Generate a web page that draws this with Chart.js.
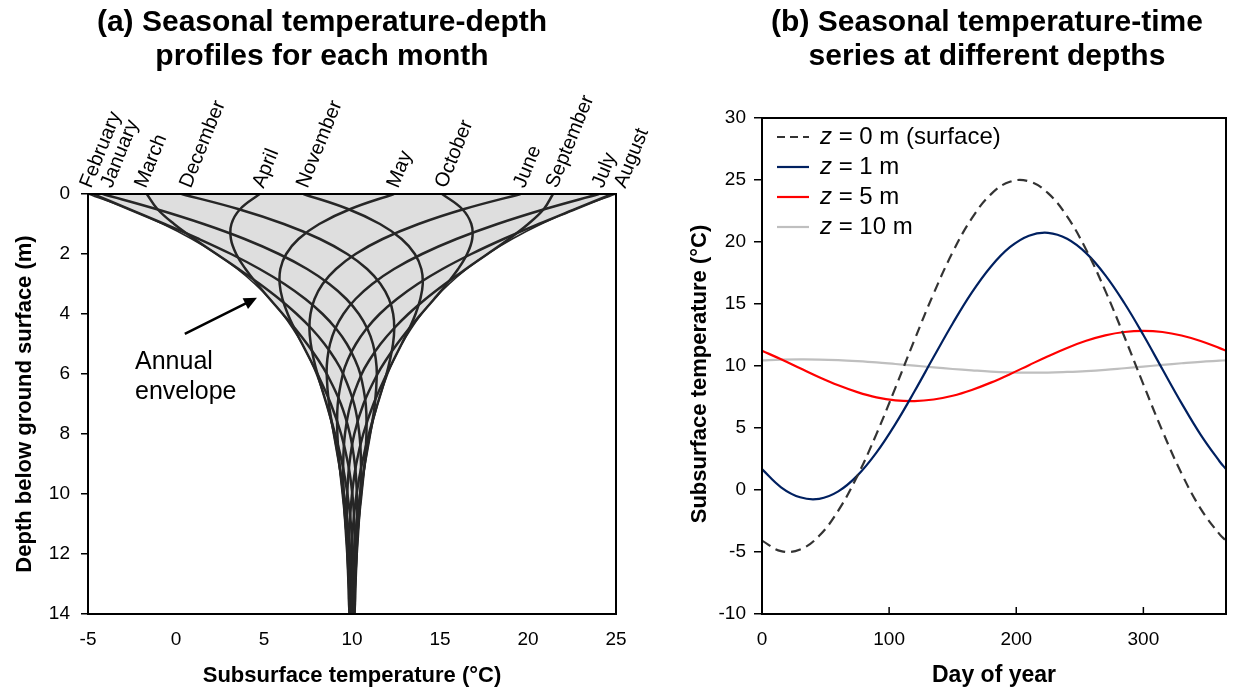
<!DOCTYPE html>
<html>
<head>
<meta charset="utf-8">
<script src="https://cdn.jsdelivr.net/npm/chart.js@4.4.1/dist/chart.umd.min.js"></script>
<style>
  html, body { margin: 0; padding: 0; background: #fff; }
  #wrap { position: relative; width: 1233px; height: 692px; overflow: hidden; }
  #chartA { position: absolute; left: 0; top: 0; }
  #chartB { position: absolute; left: 640px; top: 0; }
</style>
</head>
<body>
<div id="wrap">
  <canvas id="chartA" width="650" height="692"></canvas>
  <canvas id="chartB" width="593" height="692"></canvas>
</div>
<script>
const FONT = "'Liberation Sans', Arial, sans-serif";
Chart.defaults.font.family = FONT;
Chart.defaults.color = '#000';

// ---- (a) temperature-depth profiles, one per month (deg C at each depth) ----
const depths = [0, 0.5, 1, 1.5, 2, 2.5, 3, 3.5, 4, 4.5, 5, 5.5, 6, 7, 8, 9, 10, 11, 12, 13, 14];
const monthNames = ['January', 'February', 'March', 'April', 'May', 'June',
                    'July', 'August', 'September', 'October', 'November', 'December'];
const tJan = [-4.16, -1.13, 1.57, 3.90, 5.85, 7.45, 8.71, 9.68, 10.39, 10.88, 11.19, 11.35, 11.41, 11.30, 11.03, 10.73, 10.46, 10.25, 10.10, 10.01, 9.96];
const tFeb = [-4.71, -2.69, -0.65, 1.31, 3.13, 4.75, 6.16, 7.35, 8.33, 9.11, 9.71, 10.15, 10.47, 10.78, 10.82, 10.71, 10.54, 10.36, 10.22, 10.11, 10.03];
const tMar = [-1.66, -1.06, -0.11, 1.05, 2.30, 3.56, 4.76, 5.87, 6.86, 7.72, 8.44, 9.03, 9.50, 10.12, 10.42, 10.51, 10.47, 10.38, 10.27, 10.17, 10.09];
const tApr = [4.75, 3.65, 3.15, 3.12, 3.42, 3.95, 4.61, 5.33, 6.07, 6.79, 7.45, 8.05, 8.57, 9.37, 9.88, 10.16, 10.28, 10.30, 10.26, 10.20, 10.13];
const tMay = [12.38, 9.91, 8.14, 6.96, 6.26, 5.93, 5.89, 6.05, 6.35, 6.74, 7.17, 7.61, 8.04, 8.80, 9.38, 9.78, 10.02, 10.14, 10.18, 10.17, 10.14];
const tJun = [19.58, 16.38, 13.78, 11.74, 10.20, 9.09, 8.33, 7.87, 7.64, 7.58, 7.66, 7.82, 8.04, 8.55, 9.04, 9.45, 9.74, 9.94, 10.05, 10.09, 10.10];
const tJul = [24.03, 20.97, 18.26, 15.93, 13.98, 12.39, 11.15, 10.20, 9.51, 9.04, 8.75, 8.60, 8.56, 8.69, 8.97, 9.27, 9.55, 9.76, 9.91, 10.00, 10.04];
const tAug = [24.78, 22.70, 20.61, 18.61, 16.78, 15.14, 13.73, 12.55, 11.57, 10.81, 10.22, 9.78, 9.48, 9.19, 9.17, 9.29, 9.47, 9.64, 9.79, 9.90, 9.97];
const tSep = [21.42, 20.90, 20.01, 18.91, 17.70, 16.47, 15.28, 14.18, 13.20, 12.35, 11.62, 11.03, 10.55, 9.92, 9.60, 9.50, 9.53, 9.62, 9.73, 9.83, 9.90];
const tOct = [15.12, 16.26, 16.78, 16.83, 16.54, 16.03, 15.38, 14.67, 13.93, 13.22, 12.56, 11.97, 11.45, 10.65, 10.13, 9.85, 9.73, 9.71, 9.74, 9.80, 9.87];
const tNov = [7.24, 9.77, 11.59, 12.82, 13.57, 13.94, 14.02, 13.88, 13.61, 13.24, 12.82, 12.39, 11.97, 11.22, 10.64, 10.24, 10.00, 9.87, 9.83, 9.83, 9.86];
const tDec = [0.32, 3.53, 6.13, 8.18, 9.73, 10.86, 11.62, 12.10, 12.34, 12.40, 12.33, 12.17, 11.96, 11.45, 10.96, 10.56, 10.26, 10.07, 9.96, 9.91, 9.90];
const envMin = [-5, -2.70, -0.75, 0.90, 2.30, 3.48, 4.48, 5.33, 6.05, 6.65, 7.17, 7.60, 7.97, 8.55, 8.96, 9.25, 9.47, 9.62, 9.73, 9.80, 9.86];
const envMax = [25, 22.70, 20.75, 19.10, 17.70, 16.52, 15.52, 14.67, 13.95, 13.35, 12.83, 12.40, 12.03, 11.46, 11.04, 10.75, 10.54, 10.38, 10.28, 10.20, 10.14];
const tempTicksA = [-5, 0, 5, 10, 15, 20, 25];
const depthTicks = [0, 2, 4, 6, 8, 10, 12, 14];

// ---- (b) temperature time series at four depths ----
const days = [0, 15, 30, 45, 60, 75, 90, 105, 120, 135, 150, 165, 180, 195, 210, 225, 240, 255, 270, 285, 300, 315, 330, 345, 360, 365];
const tSurface = [-4.08, -4.93, -4.80, -3.69, -1.66, 1.13, 4.51, 8.26, 12.12, 15.84, 19.18, 21.90, 23.84, 24.86, 24.89, 23.94, 22.06, 19.38, 16.08, 12.38, 8.52, 4.76, 1.34, -1.50, -3.58, -4.08];
const t1m = [1.68, 0.22, -0.59, -0.71, -0.11, 1.16, 3.01, 5.33, 7.96, 10.72, 13.43, 15.92, 18.01, 19.58, 20.51, 20.74, 20.26, 19.10, 17.33, 15.08, 12.50, 9.74, 7.01, 4.47, 2.30, 1.68];
const t5m = [11.23, 10.54, 9.81, 9.09, 8.44, 7.89, 7.47, 7.23, 7.17, 7.30, 7.60, 8.07, 8.66, 9.34, 10.07, 10.79, 11.46, 12.03, 12.47, 12.74, 12.83, 12.74, 12.46, 12.02, 11.44, 11.23];
const t10m = [10.46, 10.51, 10.53, 10.52, 10.47, 10.39, 10.29, 10.16, 10.03, 9.89, 9.76, 9.65, 9.55, 9.49, 9.47, 9.47, 9.52, 9.59, 9.69, 9.82, 9.95, 10.09, 10.22, 10.34, 10.43, 10.46];
const seriesLabels = [' = 0 m (surface)', ' = 1 m', ' = 5 m', ' = 10 m'];
const dayTicks = [0, 100, 200, 300];
const tempTicksB = [-10, -5, 0, 5, 10, 15, 20, 25, 30];

const monthSeries = [tJan, tFeb, tMar, tApr, tMay, tJun, tJul, tAug, tSep, tOct, tNov, tDec];

function pts(xs, ys) {
    return xs.map((x, i) => ({ x: x, y: ys[i] }));
}

function fixTicks(list) {
    return function (scale) { scale.ticks = list.map(v => ({ value: v })); };
}

// crowded labels along the top get nudged apart a bit (pixels)
const labelNudge = { February: -6, January: 5, March: -5, December: 5, August: 9 };

const drawPanelA = {
    id: 'panelA',
    afterDraw(chart) {
        const ctx = chart.ctx;
        const area = chart.chartArea;
        const xs = chart.scales.x, ys = chart.scales.y;
        ctx.save();

        // frame
        ctx.strokeStyle = '#000';
        ctx.lineWidth = 2;
        ctx.strokeRect(area.left, area.top, area.right - area.left, area.bottom - area.top);

        // title
        ctx.fillStyle = '#000';
        ctx.textAlign = 'center';
        ctx.textBaseline = 'middle';
        ctx.font = 'bold 30px ' + FONT;
        ctx.fillText('(a) Seasonal temperature-depth', 322, 23);
        ctx.fillText('profiles for each month', 322, 57);

        // month names at the surface value of each profile
        ctx.font = '20px ' + FONT;
        ctx.textAlign = 'left';
        ctx.textBaseline = 'alphabetic';
        monthNames.forEach((name, i) => {
            const px = xs.getPixelForValue(monthSeries[i][0]) + (labelNudge[name] || 0);
            ctx.save();
            ctx.translate(px + 4, area.top - 5);
            ctx.rotate(-68 * Math.PI / 180);
            ctx.fillText(name, 0, 0);
            ctx.restore();
        });

        // annotation
        ctx.textBaseline = 'middle';
        ctx.font = '25px ' + FONT;
        ctx.fillText('Annual', xs.getPixelForValue(-2.33), ys.getPixelForValue(5.62));
        ctx.fillText('envelope', xs.getPixelForValue(-2.33), ys.getPixelForValue(6.62));

        const x0 = xs.getPixelForValue(0.5), y0 = ys.getPixelForValue(4.66);
        const x1 = xs.getPixelForValue(4.6), y1 = ys.getPixelForValue(3.46);
        const ang = Math.atan2(y1 - y0, x1 - x0);
        ctx.strokeStyle = '#000';
        ctx.lineWidth = 2.5;
        ctx.beginPath();
        ctx.moveTo(x0, y0);
        ctx.lineTo(x1 - 8 * Math.cos(ang), y1 - 8 * Math.sin(ang));
        ctx.stroke();
        ctx.beginPath();
        ctx.moveTo(x1, y1);
        ctx.lineTo(x1 - 13 * Math.cos(ang) + 6 * Math.sin(ang), y1 - 13 * Math.sin(ang) - 6 * Math.cos(ang));
        ctx.lineTo(x1 - 13 * Math.cos(ang) - 6 * Math.sin(ang), y1 - 13 * Math.sin(ang) + 6 * Math.cos(ang));
        ctx.closePath();
        ctx.fill();
        ctx.restore();
    }
};

const monthDatasets = monthSeries.map((temps, i) => ({
    label: monthNames[i],
    data: pts(temps, depths),
    showLine: true,
    borderColor: '#262626',
    borderWidth: 2.5,
    pointRadius: 0,
    tension: 0.4,
    fill: false
}));

// envelope outline: down the cold side, back up the warm side
const envelopePts = pts(envMin, depths).concat(pts(envMax, depths).reverse());

new Chart(document.getElementById('chartA'), {
    type: 'scatter',
    data: {
        datasets: monthDatasets.concat([{
            label: 'Annual envelope',
            data: envelopePts,
            showLine: true,
            borderColor: '#262626',
            borderWidth: 1.5,
            backgroundColor: '#dedede',
            pointRadius: 0,
            tension: 0.4,
            fill: 'shape'
        }])
    },
    options: {
        responsive: false,
        animation: false,
        devicePixelRatio: 1,
        layout: { padding: { left: 0, top: 194, right: 34, bottom: 0 } },
        plugins: { legend: { display: false }, tooltip: { enabled: false } },
        scales: {
            x: {
                type: 'linear', min: -5, max: 25,
                afterBuildTicks: fixTicks(tempTicksA),
                afterFit(scale) { scale.height = 78; },
                grid: { display: false },
                border: { display: true, color: '#000', width: 2 },
                ticks: { font: { size: 19 }, padding: 6, color: '#000' },
                title: { display: true, text: 'Subsurface temperature (°C)',
                         font: { size: 22, weight: 'bold' }, padding: { bottom: 3 } }
            },
            y: {
                type: 'linear', min: 0, max: 14, reverse: true,
                afterBuildTicks: fixTicks(depthTicks),
                afterFit(scale) { scale.width = 88; },
                grid: { display: true, drawOnChartArea: false, drawTicks: true, tickLength: 7,
                        color: '#000', lineWidth: 1.5 },
                border: { display: true, color: '#000', width: 2 },
                ticks: { font: { size: 19 }, padding: 11, color: '#000' },
                title: { display: true, text: 'Depth below ground surface (m)',
                         font: { size: 22, weight: 'bold' }, padding: { top: 12 } }
            }
        }
    },
    plugins: [drawPanelA]
});

// ---- panel (b) ----
const seriesStyles = [
    { color: '#333333', dash: [10, 6] },
    { color: '#002060', dash: [] },
    { color: '#ff0000', dash: [] },
    { color: '#bfbfbf', dash: [] }
];
const seriesData = [tSurface, t1m, t5m, t10m];

const drawPanelB = {
    id: 'panelB',
    afterDraw(chart) {
        const ctx = chart.ctx;
        const area = chart.chartArea;
        const xs = chart.scales.x;
        ctx.save();

        ctx.strokeStyle = '#000';
        ctx.lineWidth = 2;
        ctx.strokeRect(area.left, area.top, area.right - area.left, area.bottom - area.top);

        // tick marks point inwards on the day axis
        ctx.lineWidth = 1.5;
        dayTicks.forEach(d => {
            const px = xs.getPixelForValue(d);
            ctx.beginPath();
            ctx.moveTo(px, area.bottom);
            ctx.lineTo(px, area.bottom - 7);
            ctx.stroke();
        });

        ctx.fillStyle = '#000';
        ctx.textAlign = 'center';
        ctx.textBaseline = 'middle';
        ctx.font = 'bold 30px ' + FONT;
        const cx = (area.left + area.right) / 2 - 7;
        ctx.fillText('(b) Seasonal temperature-time', cx, 23);
        ctx.fillText('series at different depths', cx, 57);

        // y axis title, sits a little below the middle of the axis
        ctx.save();
        ctx.translate(60, (area.top + area.bottom) / 2 + 8);
        ctx.rotate(-Math.PI / 2);
        ctx.font = 'bold 22px ' + FONT;
        ctx.fillText('Subsurface temperature (°C)', 0, 0);
        ctx.restore();

        // legend
        ctx.textAlign = 'left';
        seriesLabels.forEach((txt, i) => {
            const y = area.top + 19 + i * 30;
            const st = seriesStyles[i];
            ctx.strokeStyle = st.color;
            ctx.lineWidth = 2.2;
            ctx.setLineDash(st.dash.length ? [8, 5] : []);
            ctx.beginPath();
            ctx.moveTo(area.left + 15, y);
            ctx.lineTo(area.left + 47, y);
            ctx.stroke();
            ctx.setLineDash([]);
            ctx.font = 'italic 24px ' + FONT;
            ctx.fillText('z', area.left + 58, y);
            const w = ctx.measureText('z').width;
            ctx.font = '24px ' + FONT;
            ctx.fillText(txt, area.left + 58 + w, y);
        });
        ctx.restore();
    }
};

new Chart(document.getElementById('chartB'), {
    type: 'scatter',
    data: {
        datasets: seriesData.map((vals, i) => ({
            label: 'z' + seriesLabels[i],
            data: pts(days, vals),
            showLine: true,
            borderColor: seriesStyles[i].color,
            borderDash: seriesStyles[i].dash,
            borderWidth: 2.2,
            pointRadius: 0,
            tension: 0.4,
            fill: false
        }))
    },
    options: {
        responsive: false,
        animation: false,
        devicePixelRatio: 1,
        layout: { padding: { left: 0, top: 118, right: 7, bottom: 0 } },
        plugins: { legend: { display: false }, tooltip: { enabled: false } },
        scales: {
            x: {
                type: 'linear', min: 0, max: 365,
                afterBuildTicks: fixTicks(dayTicks),
                afterFit(scale) { scale.height = 78; },
                grid: { display: false },
                border: { display: true, color: '#000', width: 2 },
                ticks: { font: { size: 19 }, padding: 6, color: '#000' },
                title: { display: true, text: 'Day of year',
                         font: { size: 23, weight: 'bold' }, padding: { bottom: 3 } }
            },
            y: {
                type: 'linear', min: -10, max: 30,
                afterBuildTicks: fixTicks(tempTicksB),
                afterFit(scale) { scale.width = 122; },
                grid: { display: true, drawOnChartArea: false, drawTicks: true, tickLength: 8,
                        color: '#000', lineWidth: 1.5 },
                border: { display: true, color: '#000', width: 2 },
                ticks: { font: { size: 19 }, padding: 8, color: '#000' },
                title: { display: false }
            }
        }
    },
    plugins: [drawPanelB]
});
</script>
</body>
</html>
